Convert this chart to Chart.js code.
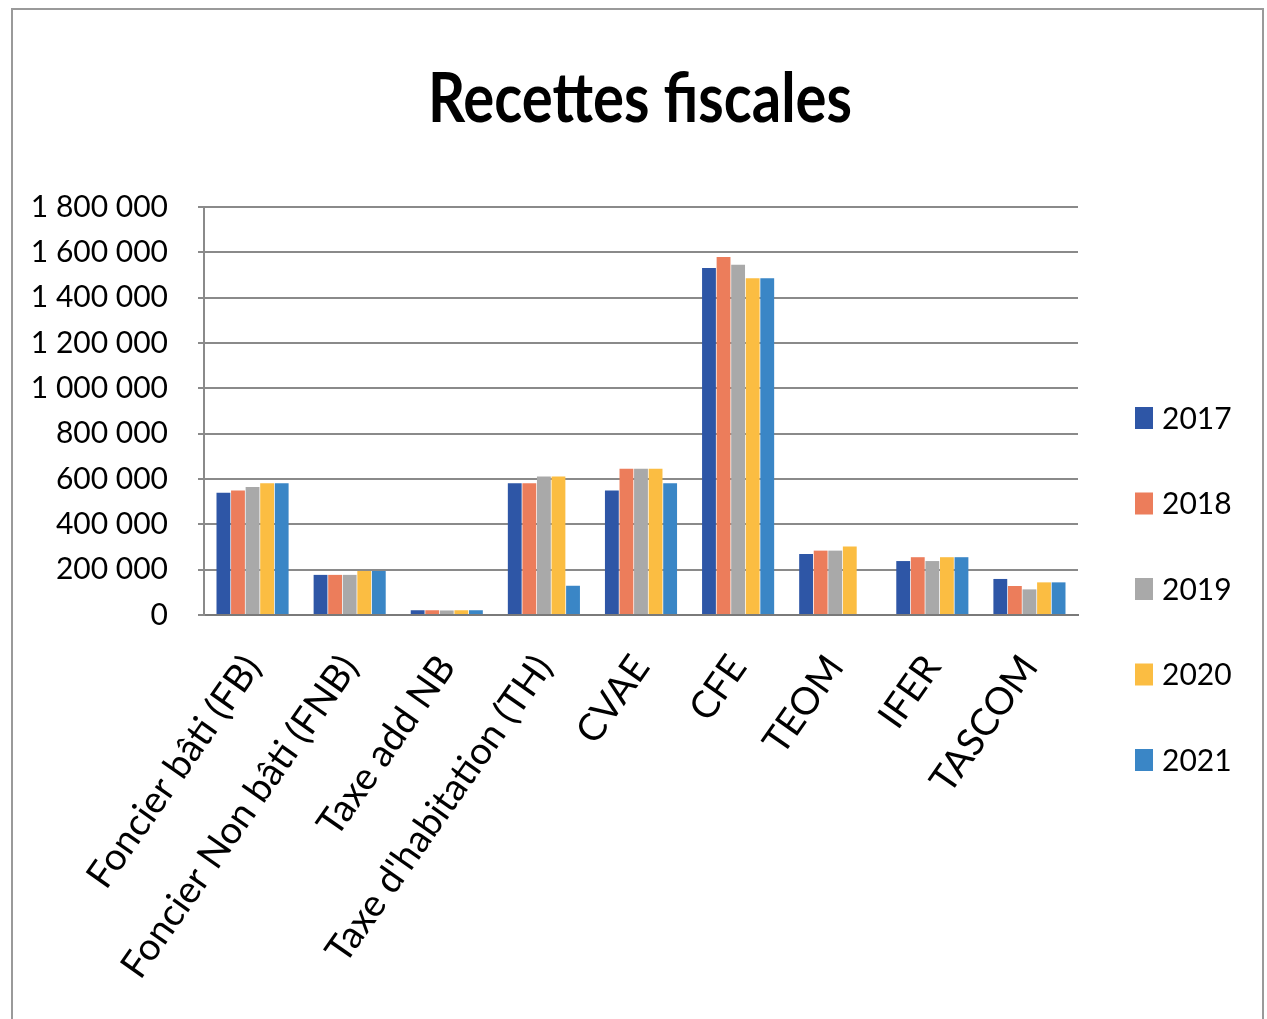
<!DOCTYPE html>
<html>
<head>
<meta charset="utf-8">
<script src="https://cdn.jsdelivr.net/npm/chart.js@4.4.1/dist/chart.umd.min.js"></script>
<style>
  html, body { margin: 0; padding: 0; background: #fff; }
  #wrap { position: relative; width: 1267px; height: 1019px; overflow: hidden; }
  #frame { position: absolute; left: 11px; top: 8px; width: 1253px; height: 1100px; border: 2px solid #9a9a9a; box-sizing: border-box; }
  #recettes { position: absolute; left: 0; top: 0; }
</style>
</head>
<body>
<div id="wrap">
  <div id="frame"></div>
  <canvas id="recettes" width="1267" height="1019"></canvas>
</div>
<script>
// catégories et valeurs
const categories = ['Foncier bâti (FB)', 'Foncier Non bâti (FNB)', 'Taxe add NB', "Taxe d'habitation (TH)", 'CVAE', 'CFE', 'TEOM', 'IFER', 'TASCOM'];
const years = ['2017', '2018', '2019', '2020', '2021'];
const v2017 = [539000, 177000, 21000, 581000, 549000, 1531000, 269000, 238000, 159000];
const v2018 = [549000, 177000, 21000, 581000, 645000, 1579000, 284000, 255000, 128000];
const v2019 = [565000, 177000, 20000, 611000, 645000, 1545000, 284000, 238000, 113000];
const v2020 = [581000, 194000, 21000, 611000, 645000, 1486000, 302000, 255000, 144000];
const v2021 = [581000, 194000, 21000, 129000, 581000, 1486000, null, 255000, 144000];
const colors = ['#2e56a6', '#ec7d5b', '#a9a9a9', '#fbbd42', '#3a86c6'];
const chartTitle = 'Recettes fiscales';

const series = [v2017, v2018, v2019, v2020, v2021];

// titre centré sur toute la page + légende à droite, placée comme dans l'original
const decor = {
    id: 'decor',
    afterDraw(chart) {
        const c = chart.ctx;
        c.save();
        c.fillStyle = '#000';
        c.textAlign = 'center';
        c.textBaseline = 'alphabetic';
        c.font = 'bold 58px Lato';
        c.translate(640, 122);
        c.scale(1, 1.2);
        c.fillText(chartTitle, 0, 0);
        c.restore();

        c.save();
        c.font = '30px Lato';
        c.textBaseline = 'middle';
        chart.data.datasets.forEach((ds, i) => {
            const y = 418 + i * 85.5;
            c.fillStyle = ds.backgroundColor;
            c.fillRect(1135, y - 11, 18, 22);
            c.fillStyle = '#000';
            c.fillText(ds.label, 1162, y + 1);
        });
        c.restore();
    }
};

const ctx = document.getElementById('recettes').getContext('2d');
new Chart(ctx, {
    type: 'bar',
    data: {
        labels: categories,
        datasets: series.map((vals, i) => ({
            label: years[i],
            data: vals,
            backgroundColor: colors[i],
            categoryPercentage: 0.75,
            barPercentage: 0.95
        }))
    },
    plugins: [decor],
    options: {
        responsive: false,
        animation: false,
        layout: { padding: { left: 12, right: 189, bottom: 0, top: 207 } },
        plugins: {
            legend: { display: false },
            tooltip: { enabled: false }
        },
        scales: {
            x: {
                afterFit: (scale) => { scale.height = 404; },
                grid: { display: false },
                border: { display: true, color: '#7a7a7a', width: 2 },
                ticks: {
                    color: '#000',
                    font: { family: 'Lato', size: 38 },
                    minRotation: 55,
                    maxRotation: 55,
                    autoSkip: false,
                    padding: 24
                }
            },
            y: {
                min: 0,
                max: 1800000,
                afterFit: (scale) => { scale.width = 192; },
                grid: { color: '#8a8a8a', lineWidth: 2, tickLength: 6 },
                border: { display: true, color: '#8a8a8a', width: 2 },
                ticks: {
                    stepSize: 200000,
                    color: '#000',
                    font: { family: 'Lato', size: 30 },
                    padding: 30,
                    callback: (v) => String(v).replace(/\B(?=(\d{3})+(?!\d))/g, ' ')
                }
            }
        }
    }
});
</script>
</body>
</html>
